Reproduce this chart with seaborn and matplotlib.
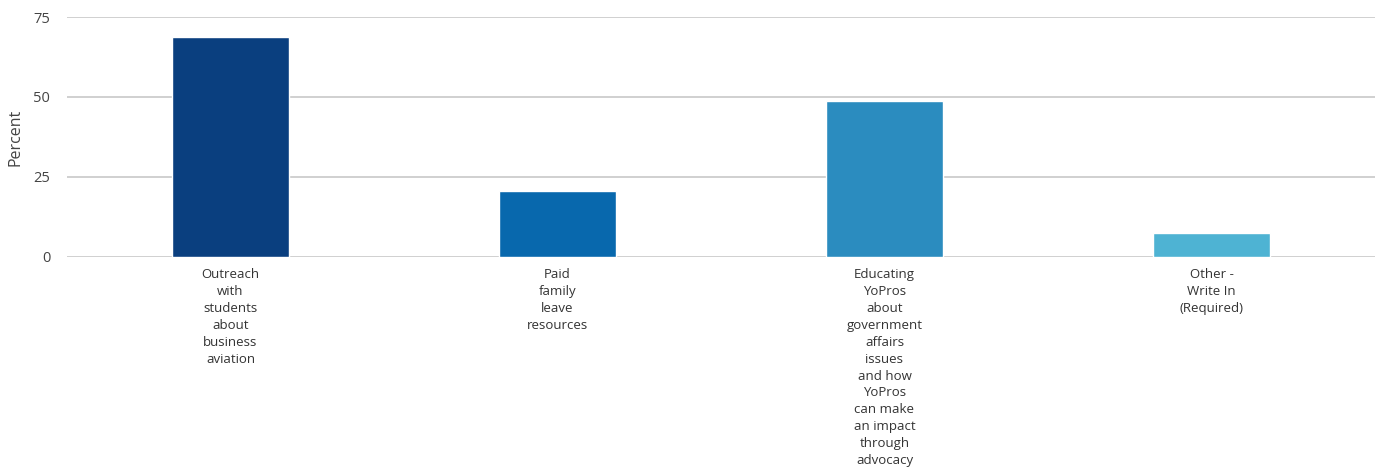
import numpy as np
import pandas as pd
import seaborn as sns
import matplotlib.pyplot as plt

# Data
categories = [
    "Outreach\nwith\nstudents\nabout\nbusiness\naviation",
    "Paid\nfamily\nleave\nresources",
    "Educating\nYoPros\nabout\ngovernment\naffairs\nissues\nand how\nYoPros\ncan make\nan impact\nthrough\nadvocacy",
    "Other -\nWrite In\n(Required)",
]
percent = [68.8, 20.6, 48.8, 7.4]
colors = ["#0a3f7f", "#0868ad", "#2b8cbf", "#4eb3d3"]
yticks = [0, 25, 50, 75]

df = pd.DataFrame({"category": categories, "percent": percent})

sns.set_style("white")
plt.rcParams['font.family'] = ['Open Sans', 'DejaVu Sans']

fig = plt.figure(figsize=(13.81, 4.68), dpi=100)
ax = fig.add_axes([67 / 1381, 1 - 257 / 468, 1308 / 1381, 240 / 468])

sns.barplot(x="category", y="percent", data=df, hue="category", palette=colors,
            width=0.36, legend=False, ax=ax, saturation=1)

ax.set_xlim(-0.5, 3.5)
ax.set_ylim(0, 75)
ax.set_yticks(yticks)
ax.yaxis.grid(True, color="#c8c8c8", linewidth=1.2)
ax.set_axisbelow(True)
for s in ax.spines.values():
    s.set_visible(False)
ax.tick_params(axis="both", length=0, labelsize=10.5, colors="#444444")
ax.tick_params(axis="y", pad=12)
ax.tick_params(axis="x", pad=8)
for lbl in ax.get_xticklabels():
    lbl.set_linespacing(1.39)
    lbl.set_fontsize(9.5)
    lbl.set_color("#333333")
ax.set_xlabel("")
ax.set_ylabel("Percent", fontsize=11.5, color="#444444")
ax.yaxis.set_label_coords(-44 / 1308, 0.5)

fig.savefig("out.png", dpi=100)
